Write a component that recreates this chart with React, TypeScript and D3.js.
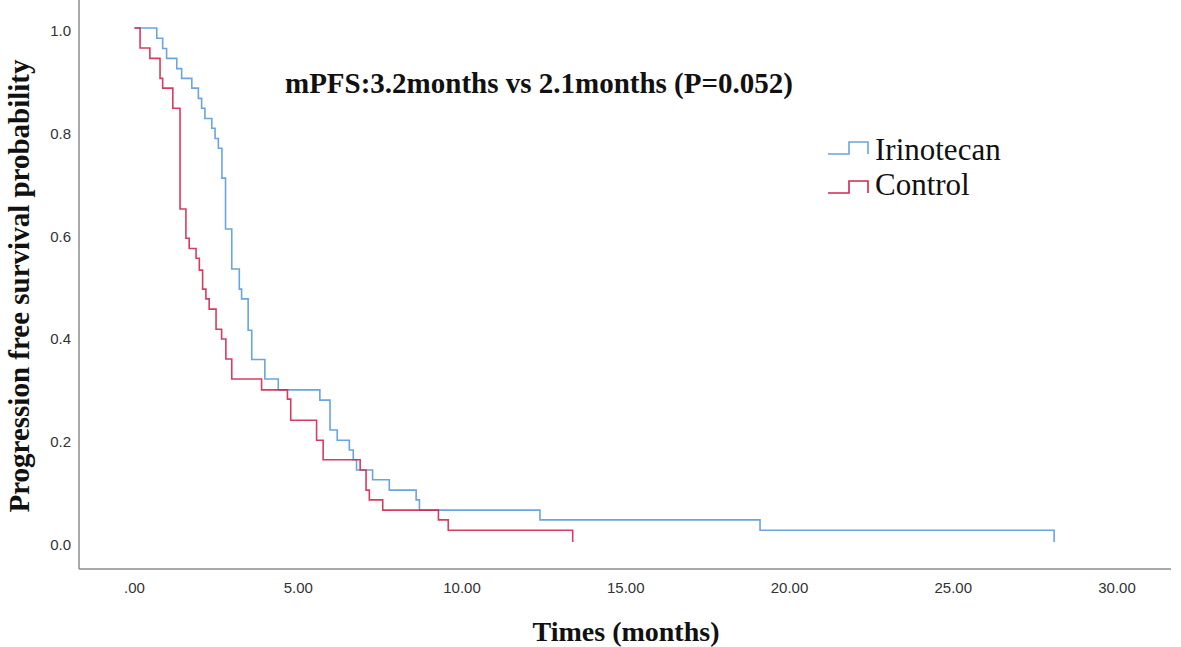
import React, { useRef, useEffect } from "react";
import * as d3 from "d3";

// Kaplan-Meier steps: time (months) -> survival after the drop
const irinotecanTimes = [
  0, 0.68, 0.86, 0.98, 1.29, 1.44, 1.75, 1.95, 2.05, 2.15, 2.36, 2.46, 2.56,
  2.67, 2.78, 2.97, 3.2, 3.27, 3.47, 3.58, 3.98, 4.39, 5.66, 5.97, 6.19, 6.56,
  6.68, 6.78, 7.27, 7.78, 8.6, 8.7, 12.38, 19.1, 28.08,
];
const irinotecanSurv = [
  1.0, 0.98, 0.96, 0.941, 0.921, 0.902, 0.883, 0.863, 0.844, 0.824, 0.805,
  0.785, 0.766, 0.708, 0.609, 0.531, 0.492, 0.473, 0.412, 0.355, 0.317, 0.296,
  0.276, 0.218, 0.198, 0.179, 0.16, 0.14, 0.121, 0.101, 0.082, 0.062, 0.043,
  0.023, 0.0,
];

const controlTimes = [
  0, 0.17, 0.47, 0.78, 0.86, 1.17, 1.39, 1.57, 1.67, 1.88, 1.98, 2.08, 2.18,
  2.28, 2.49, 2.66, 2.79, 2.97, 3.88, 4.67, 4.77, 5.56, 5.76, 6.89, 7.07, 7.17,
  7.58, 9.28, 9.58, 13.38,
];
const controlSurv = [
  1.0, 0.961, 0.941, 0.902, 0.883, 0.844, 0.648, 0.591, 0.571, 0.552, 0.529,
  0.492, 0.473, 0.453, 0.414, 0.395, 0.356, 0.317, 0.296, 0.278, 0.237, 0.198,
  0.16, 0.14, 0.101, 0.082, 0.062, 0.043, 0.023, 0.0,
];

const seriesNames = ["Irinotecan", "Control"];
const xTicks = [0, 5, 10, 15, 20, 25, 30];
const yTicks = [0, 0.2, 0.4, 0.6, 0.8, 1.0];
const annotation = "mPFS:3.2months vs 2.1months (P=0.052)";

const W = 1181;
const H = 647;
const BLUE = "#6aa4e2";
const RED = "#d2274f";

const App = () => {
  const ref = useRef(null);

  useEffect(() => {
    const svg = d3.select(ref.current);
    svg.selectAll("*").remove();

    const x = d3.scaleLinear().domain([0, 30]).range([134.5, 1117]);
    const y = d3.scaleLinear().domain([0, 1]).range([542, 28]);

    svg.append("rect").attr("width", W).attr("height", H).attr("fill", "#fff");

    // axes frame
    svg
      .append("line")
      .attr("x1", 79).attr("x2", 79).attr("y1", 0).attr("y2", 569)
      .attr("stroke", "#8c8c8c").attr("stroke-width", 1.5);
    svg
      .append("line")
      .attr("x1", 79).attr("x2", 1171).attr("y1", 569).attr("y2", 569)
      .attr("stroke", "#8c8c8c").attr("stroke-width", 1.5);

    const tickFont = "Liberation Sans, Arial, sans-serif";
    svg
      .selectAll(".yt")
      .data(yTicks)
      .enter()
      .append("text")
      .attr("x", 71)
      .attr("y", (d) => y(d) + 8)
      .attr("text-anchor", "end")
      .attr("font-family", tickFont)
      .attr("font-size", 15)
      .attr("fill", "#333")
      .text((d) => d3.format(".1f")(d));

    svg
      .selectAll(".xt")
      .data(xTicks)
      .enter()
      .append("text")
      .attr("x", (d) => x(d))
      .attr("y", 593)
      .attr("text-anchor", "middle")
      .attr("font-family", tickFont)
      .attr("font-size", 15)
      .attr("fill", "#333")
      .text((d) => (d === 0 ? ".00" : d3.format(".2f")(d)));

    const serif = "Liberation Serif, Times New Roman, serif";

    // axis titles
    svg
      .append("text")
      .attr("x", 626)
      .attr("y", 641)
      .attr("text-anchor", "middle")
      .attr("font-family", serif)
      .attr("font-weight", "bold")
      .attr("font-size", 28)
      .attr("fill", "#111")
      .text("Times (months)");
    svg
      .append("text")
      .attr("transform", "translate(29,286) rotate(-90)")
      .attr("text-anchor", "middle")
      .attr("font-family", serif)
      .attr("font-weight", "bold")
      .attr("font-size", 29)
      .attr("fill", "#111")
      .text("Progression free survival probability");

    svg
      .append("text")
      .attr("x", 285)
      .attr("y", 93)
      .attr("font-family", serif)
      .attr("font-weight", "bold")
      .attr("font-size", 29)
      .attr("fill", "#111")
      .text(annotation);

    // curves
    const line = d3
      .line<[number, number]>()
      .x((d) => x(d[0]))
      .y((d) => y(d[1]))
      .curve(d3.curveStepAfter);

    const blueData = irinotecanTimes.map((t, i) => [t, irinotecanSurv[i]] as [number, number]);
    const redData = controlTimes.map((t, i) => [t, controlSurv[i]] as [number, number]);

    svg
      .append("path")
      .attr("d", line(blueData))
      .attr("fill", "none")
      .attr("stroke", BLUE)
      .attr("stroke-width", 1.6);
    svg
      .append("path")
      .attr("d", line(redData))
      .attr("fill", "none")
      .attr("stroke", RED)
      .attr("stroke-width", 1.6)
      .attr("stroke-opacity", 0.9);

    // legend
    const legend = svg.append("g");
    [BLUE, RED].forEach((c, i) => {
      const by = 154 + i * 39;
      legend
        .append("path")
        .attr("d", `M828,${by}H849V${by - 12}H868V${by}`)
        .attr("fill", "none")
        .attr("stroke", c)
        .attr("stroke-width", 1.6);
      legend
        .append("text")
        .attr("x", 875)
        .attr("y", 160 + i * 35)
        .attr("font-family", serif)
        .attr("font-size", 31)
        .attr("fill", "#111")
        .text(seriesNames[i]);
    });
  }, []);

  return (
    <svg
      ref={ref}
      width={W}
      height={H}
      style={{ position: "absolute", left: 0, top: 0 }}
    ></svg>
  );
};

export default App;
